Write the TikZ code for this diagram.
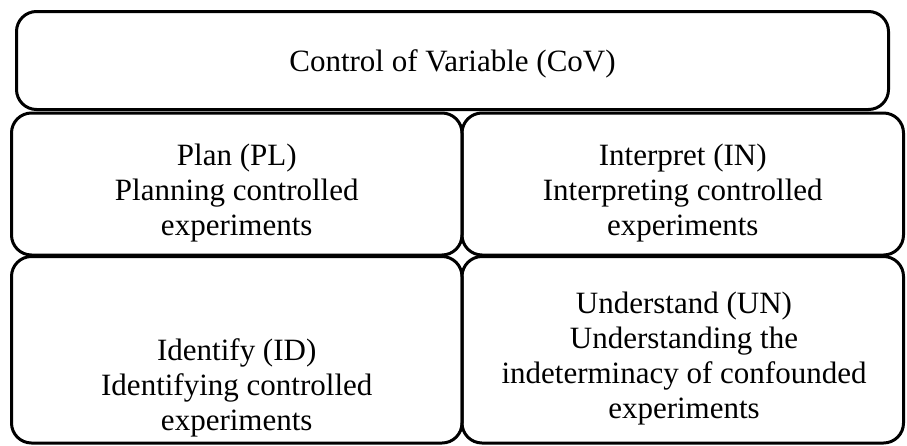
\documentclass[tikz,border=0pt]{standalone}
\usepackage{fontspec}
\setmainfont{Liberation Serif}
\begin{document}
\begin{tikzpicture}[x=1pt,y=-1pt,
  cbox/.style={draw=black,line width=3pt,rounded corners=20pt,inner sep=0pt},
  ctext/.style={anchor=base,inner sep=0pt,align=center,
    font=\fontsize{31}{35}\selectfont,text=black}]
\useasboundingbox (0,0) rectangle (907,445);
\node[cbox,minimum width=872pt,minimum height=98pt] (cov) at (452.5,60.5) {};
\node[cbox,minimum width=450.5pt,minimum height=142pt] (pl) at (236.75,184) {};
\node[cbox,minimum width=441.5pt,minimum height=142pt] (in) at (682.75,184) {};
\node[cbox,minimum width=450.5pt,minimum height=186.5pt] (id) at (236.75,349.75) {};
\node[cbox,minimum width=441.5pt,minimum height=186.5pt] (un) at (682.75,349.75) {};
\node[ctext] (covt) at (452.5,71) {Control of Variable (CoV)};
\node[ctext] (plt) at (236.75,235) {Plan (PL)\\Planning controlled\\experiments};
\node[ctext] (int) at (682.75,235) {Interpret (IN)\\Interpreting controlled\\experiments};
\node[ctext] (idt) at (236.75,430) {Identify (ID)\\Identifying controlled\\experiments};
\node[ctext] (unt) at (684,418) {Understand (UN)\\Understanding the\\indeterminacy of confounded\\experiments};
\end{tikzpicture}
\end{document}
